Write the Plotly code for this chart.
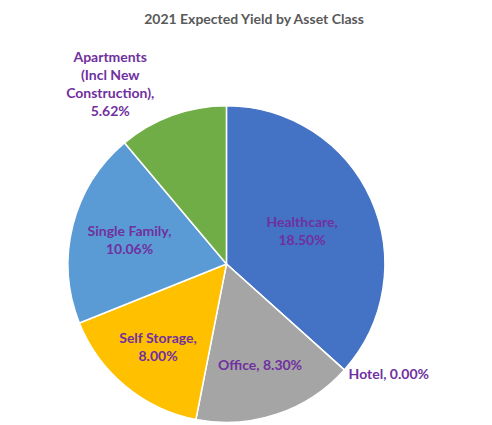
import plotly.graph_objects as go

# asset classes, clockwise from 12 o'clock
asset_class = ['Healthcare', 'Hotel', 'Office', 'Self Storage', 'Single Family',
               'Apartments (Incl New Construction)']
label_text = ['<b>Healthcare,<br>18.50%</b>', '<b>Hotel, 0.00%</b>', '<b>Office, 8.30%</b>',
              '<b>Self Storage,<br>8.00%</b>', '<b>Single Family,<br>10.06%</b>',
              '<b>Apartments<br>(Incl New<br>Construction),<br>5.62%</b>']
yield_pct = [18.50, 0.00, 8.30, 8.00, 10.06, 5.62]
slice_colors = ['#4472C4', '#ED7D31', '#A5A5A5', '#FFC000', '#5B9BD5', '#70AD47']
label_pos = ['inside', 'outside', 'inside', 'inside', 'inside', 'outside']

fig = go.Figure()

fig.add_trace(go.Pie(
    labels=asset_class,
    values=yield_pct,
    text=label_text,
    textinfo='text',
    textposition=label_pos,
    insidetextorientation='horizontal',
    sort=False,
    direction='clockwise',
    rotation=0,
    marker=dict(colors=slice_colors, line=dict(color='white', width=1.5)),
    textfont=dict(family='Lato', size=14, color='#7030A0'),
    hoverinfo='label+value',
    domain=dict(x=[0.122, 0.766], y=[0.024, 0.771]),
))

fig.update_layout(
    title=dict(text='<b>2021 Expected Yield by Asset Class</b>', x=0.5, xanchor='center',
               y=0.985, yanchor='top', font=dict(family='Lato', size=14, color='#595959')),
    showlegend=False,
    paper_bgcolor='white',
    margin=dict(l=0, r=0, t=0, b=0),
    width=492,
    height=425,
)

fig.write_html("out.html")
